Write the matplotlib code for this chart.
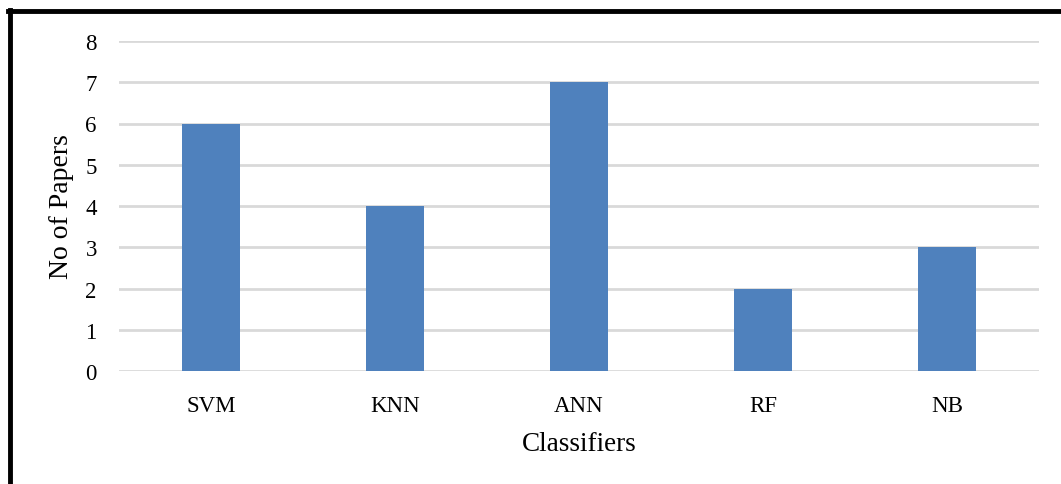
import matplotlib
matplotlib.use("Agg")
import matplotlib.pyplot as plt
from matplotlib.lines import Line2D

# Datos
clasificadores = ["SVM", "KNN", "ANN", "RF", "NB"]
num_papers = [6, 4, 7, 2, 3]

plt.rcParams['font.family'] = ['Liberation Serif', 'DejaVu Serif']

fig = plt.figure(figsize=(10.61, 4.85), dpi=100)
ax = fig.add_axes([119 / 1061, 1 - 372 / 485, 920 / 1061, 330 / 485])

ax.bar(range(len(clasificadores)), num_papers, width=0.31, color="#4f81bd", zorder=3)
ax.set_xlim(-0.5, len(clasificadores) - 0.5)
ax.set_ylim(0, 8)
ax.set_yticks(range(0, 9))
ax.set_xticks(range(len(clasificadores)))
ax.set_xticklabels(clasificadores)
ax.tick_params(axis="both", length=0, labelsize=16.5, colors="black")
ax.tick_params(axis="y", pad=16)
ax.tick_params(axis="x", pad=17)
ax.grid(axis="y", color="#d9d9d9", linewidth=2, zorder=0)
for s in ax.spines.values():
    s.set_visible(False)

ax.set_xlabel("Classifiers", fontsize=19.5, labelpad=11)
ax.set_ylabel("No of Papers", fontsize=20, labelpad=8)

# Borde del gráfico (solo izquierda y arriba)
fig.add_artist(Line2D([9.5 / 1061, 9.5 / 1061], [0, 1 - 11 / 485], color="black", linewidth=3.5, transform=fig.transFigure))
fig.add_artist(Line2D([8 / 1061, 1], [1 - 11.5 / 485, 1 - 11.5 / 485], color="black", linewidth=3.5, transform=fig.transFigure))

plt.savefig("out.png", dpi=100)
plt.close()
